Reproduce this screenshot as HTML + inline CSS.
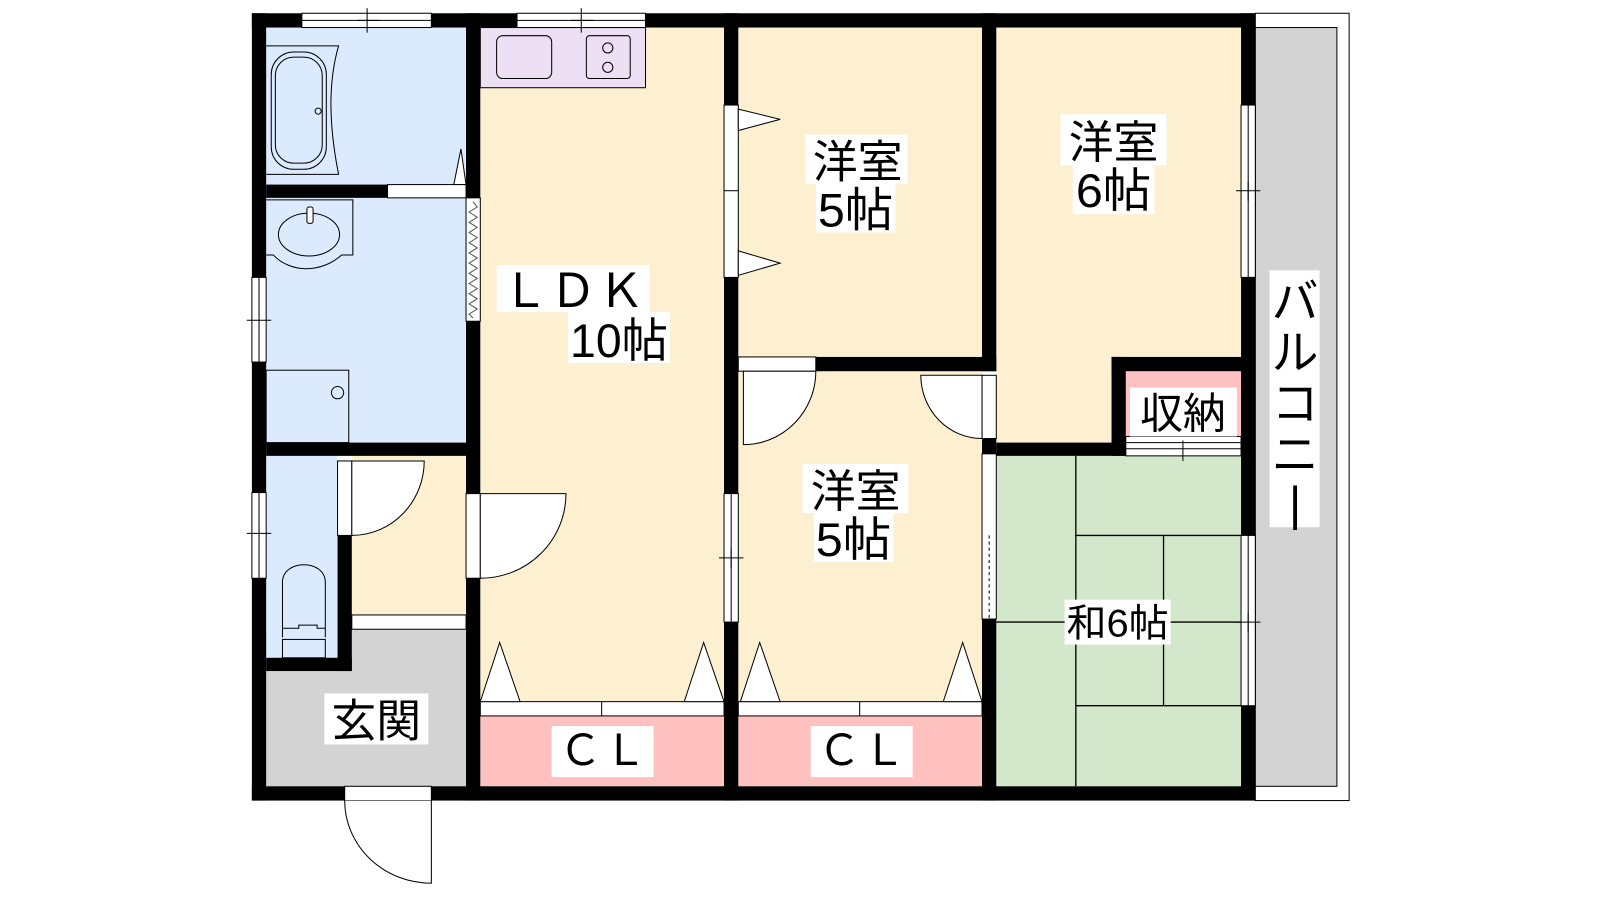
<!DOCTYPE html>
<html><head><meta charset="utf-8"><style>
html,body{margin:0;padding:0;background:#fff;width:1600px;height:900px;overflow:hidden}
svg{display:block}
text{font-family:"Liberation Sans","Noto Sans CJK JP",sans-serif;fill:#000}
</style></head><body>
<svg width="1600" height="900" viewBox="0 0 1569 882.5" preserveAspectRatio="none" xmlns="http://www.w3.org/2000/svg">
<rect width="1569" height="882.5" fill="#fff"/>
<!-- balcony -->
<rect x="1231" y="13" width="92" height="772" fill="#fff" stroke="#000" stroke-width="1"/>
<rect x="1231" y="27" width="80" height="744" fill="#d3d3d3" stroke="#000" stroke-width="1"/>
<!-- rooms fills -->
<rect x="261" y="617" width="196" height="154" fill="#d3d3d3"/>
<rect x="261" y="27" width="196" height="407" fill="#dbeafd"/>
<rect x="261" y="447" width="70" height="198" fill="#dbeafd"/>
<rect x="345" y="447" width="112" height="156" fill="#fdf0d0"/>
<rect x="471" y="27" width="239" height="744" fill="#fdf0d0"/>
<rect x="724" y="27" width="239" height="744" fill="#fdf0d0"/>
<rect x="977" y="27" width="240" height="407" fill="#fdf0d0"/>
<rect x="977" y="447" width="240" height="324" fill="#d3e8cb"/>
<rect x="1104" y="364" width="113" height="64" fill="#ffc0c0"/>
<rect x="471" y="702" width="239" height="69" fill="#ffc0c0"/>
<rect x="724" y="702" width="239" height="69" fill="#ffc0c0"/>
<!-- tatami -->
<g stroke="#000" stroke-width="1.3" fill="none">
<line x1="1055" y1="447" x2="1055" y2="771"/>
<line x1="1055" y1="525" x2="1217" y2="525"/>
<line x1="977" y1="610" x2="1217" y2="610"/>
<line x1="1141" y1="525" x2="1141" y2="692"/>
<line x1="1055" y1="692" x2="1217" y2="692"/>
</g>
<!-- kitchen -->
<rect x="471" y="27" width="162" height="59" fill="#ede0f5" stroke="#000" stroke-width="1"/>
<rect x="487" y="35" width="54" height="42" rx="6" fill="none" stroke="#000" stroke-width="1"/>
<rect x="575" y="35" width="43" height="42" rx="3" fill="none" stroke="#000" stroke-width="1"/>
<circle cx="596" cy="47" r="5" fill="none" stroke="#000"/><circle cx="596" cy="66" r="5" fill="none" stroke="#000"/>
<!-- bath -->
<path d="M261 45 H332 C322 80 322 120 332 171 H261" fill="none" stroke="#000"/>
<rect x="266" y="51" width="54" height="115" rx="22" fill="none" stroke="#000"/>
<rect x="270" y="56" width="46" height="104" rx="18" fill="none" stroke="#000"/>
<circle cx="312" cy="109" r="3" fill="none" stroke="#000"/>
<polygon points="445,181 452,146 457,181" fill="#fff" stroke="#000"/>
<!-- washbasin -->
<path d="M261 196 H346 V250 H335 C315 268 285 268 268 250 H261" fill="none" stroke="#000"/>
<ellipse cx="303" cy="230" rx="30" ry="21" fill="none" stroke="#000"/>
<rect x="301" y="203" width="6" height="16" rx="2" fill="#fff" stroke="#000"/>
<rect x="261" y="363" width="81" height="71" fill="none" stroke="#000"/>
<circle cx="331" cy="385" r="6" fill="none" stroke="#000"/>
<!-- toilet -->
<path d="M277 625 V571 C277 548 319 548 319 571 V625" fill="none" stroke="#000"/>
<path d="M277 616 H293 V613 H311 V616 H319" fill="none" stroke="#000"/>
<rect x="277" y="627" width="42" height="18" fill="none" stroke="#000"/>
<!-- step -->
<rect x="345" y="603" width="112" height="14" fill="#fff" stroke="#000" stroke-width="1"/>
<!-- walls -->
<g fill="#000">
<rect x="247" y="13" width="984" height="14"/>
<rect x="247" y="771" width="984" height="14"/>
<rect x="247" y="13" width="14" height="772"/>
<rect x="1217" y="13" width="14" height="772"/>
<rect x="457" y="13" width="14" height="772"/>
<rect x="710" y="13" width="14" height="772"/>
<rect x="963" y="13" width="14" height="351"/>
<rect x="963" y="430" width="14" height="15"/>
<rect x="963" y="607" width="14" height="178"/>
<rect x="261" y="181" width="119" height="13"/>
<rect x="261" y="434" width="196" height="13"/>
<rect x="331" y="525" width="14" height="133"/>
<rect x="261" y="645" width="84" height="13"/>
<rect x="800" y="350" width="177" height="14"/>
<rect x="1090" y="350" width="141" height="14"/>
<rect x="1090" y="350" width="14" height="97"/>
<rect x="977" y="434" width="127" height="13"/>
</g>
<!-- openings (white) -->
<g fill="#fff" stroke="#000" stroke-width="1">
<rect x="296" y="13" width="127" height="14"/><line x1="296" y1="20" x2="423" y2="20"/>
<rect x="507" y="13" width="126" height="14"/><line x1="507" y1="20" x2="633" y2="20"/>
<rect x="380" y="181" width="77" height="13"/>
<rect x="457" y="194" width="14" height="121"/>
<rect x="457" y="484" width="14" height="83"/>
<rect x="247" y="272" width="14" height="83"/><line x1="254" y1="272" x2="254" y2="355"/>
<rect x="247" y="483" width="14" height="84"/><line x1="254" y1="483" x2="254" y2="567"/>
<rect x="331" y="452" width="14" height="73"/>
<rect x="338" y="771" width="85" height="14"/>
<rect x="710" y="103" width="14" height="169"/><line x1="710" y1="187" x2="724" y2="187"/>
<rect x="710" y="484" width="14" height="126"/><line x1="717" y1="484" x2="717" y2="610"/>
<rect x="724" y="350" width="76" height="14"/>
<rect x="963" y="368" width="14" height="62"/>
<rect x="963" y="445" width="14" height="162"/>
<rect x="1217" y="103" width="14" height="169"/><line x1="1224" y1="103" x2="1224" y2="272"/>
<rect x="1217" y="525" width="14" height="167"/><line x1="1224" y1="525" x2="1224" y2="692"/>
<rect x="1104" y="428" width="113" height="19"/><line x1="1104" y1="434" x2="1217" y2="434"/><line x1="1104" y1="440" x2="1217" y2="440"/>
<rect x="471" y="688" width="239" height="14"/><line x1="590" y1="688" x2="590" y2="702"/>
<rect x="724" y="688" width="239" height="14"/><line x1="843" y1="688" x2="843" y2="702"/>
</g>
<line x1="970" y1="525" x2="970" y2="607" stroke="#000" stroke-dasharray="3,3"/>
<!-- zigzag -->
<polyline points="464,198 468,203 460,208 468,213 460,218 468,223 460,228 468,233 460,238 468,243 460,248 468,253 460,258 468,263 460,268 468,273 460,278 468,283 460,288 468,293 460,298 468,303 460,308 464,312" fill="none" stroke="#555" stroke-width="1"/>
<!-- window tick marks -->
<g stroke="#000" stroke-width="1">
<line x1="360" y1="8" x2="360" y2="32"/><line x1="350" y1="20" x2="372" y2="20"/>
<line x1="570" y1="8" x2="570" y2="32"/><line x1="560" y1="20" x2="582" y2="20"/>
<line x1="242" y1="314" x2="266" y2="314"/><line x1="254" y1="305" x2="254" y2="325"/>
<line x1="242" y1="523" x2="266" y2="523"/><line x1="254" y1="514" x2="254" y2="534"/>
<line x1="705" y1="547" x2="729" y2="547"/><line x1="717" y1="538" x2="717" y2="557"/>
<line x1="1212" y1="187" x2="1236" y2="187"/><line x1="1224" y1="178" x2="1224" y2="197"/>
<line x1="1212" y1="610" x2="1236" y2="610"/><line x1="1224" y1="601" x2="1224" y2="620"/>
<line x1="1160" y1="432" x2="1160" y2="452"/>
</g>
<!-- doors -->
<g fill="#fff" stroke="#000" stroke-width="1">
<path d="M345 452 H416 A71 73 0 0 1 345 525 Z"/>
<path d="M471 484 H555 A84 83 0 0 1 471 567 Z"/>
<path d="M423 785 V866 A85 81 0 0 1 338 785"/>
<path d="M729 364 V436 A71 72 0 0 0 800 364 Z"/>
<path d="M963 368 H903 A60 62 0 0 0 963 430 Z"/>
<polygon points="724,107 765,117 724,128"/>
<polygon points="724,246 765,258 724,270"/>
<polygon points="471,688 490,630 510,688"/>
<polygon points="671,688 690,630 710,688"/>
<polygon points="726,688 745,630 765,688"/>
<polygon points="925,688 944,630 963,688"/>
</g>
<!-- labels -->
<g fill="#fff">
<rect x="487" y="260" width="150" height="46"/>
<rect x="557" y="306" width="100" height="50"/>
<rect x="790" y="132" width="100" height="48"/><rect x="800" y="180" width="78" height="48"/>
<rect x="1040" y="112" width="104" height="50"/><rect x="1052" y="162" width="80" height="48"/>
<rect x="787" y="455" width="104" height="48"/><rect x="798" y="503" width="78" height="48"/>
<rect x="1108" y="380" width="105" height="48"/>
<rect x="1044" y="588" width="104" height="44"/>
<rect x="318" y="680" width="102" height="50"/>
<rect x="541" y="712" width="100" height="50"/>
<rect x="795" y="712" width="100" height="50"/>
<rect x="1245" y="265" width="49" height="252"/>
</g>
<g font-size="44" text-anchor="middle">
<text x="562" y="301" font-size="46" textLength="140" lengthAdjust="spacing">ＬＤＫ</text>
<text x="607" y="350" font-size="46" textLength="96" lengthAdjust="spacingAndGlyphs">10帖</text>
<text x="841" y="174">洋室</text>
<text x="839" y="222" font-size="46" textLength="74" lengthAdjust="spacingAndGlyphs">5帖</text>
<text x="1092" y="155">洋室</text>
<text x="1092" y="203" font-size="46" textLength="74" lengthAdjust="spacingAndGlyphs">6帖</text>
<text x="839" y="497">洋室</text>
<text x="837" y="545" font-size="46" textLength="74" lengthAdjust="spacingAndGlyphs">5帖</text>
<text x="1160" y="420" font-size="42">収納</text>
<text x="1096" y="624" font-size="38" textLength="100" lengthAdjust="spacingAndGlyphs">和6帖</text>
<text x="369" y="722" font-size="44">玄関</text>
<text x="591" y="750" font-size="42" textLength="86" lengthAdjust="spacing">ＣＬ</text>
<text x="845" y="750" font-size="42" textLength="86" lengthAdjust="spacing">ＣＬ</text>
</g>
<g font-size="46" text-anchor="middle">
<text x="1270" y="312">バ</text>
<text x="1270" y="362">ル</text>
<text x="1270" y="412">コ</text>
<text x="1270" y="462">ニ</text>
<text x="1270" y="510">|</text>
</g>
</svg>
</body></html>
